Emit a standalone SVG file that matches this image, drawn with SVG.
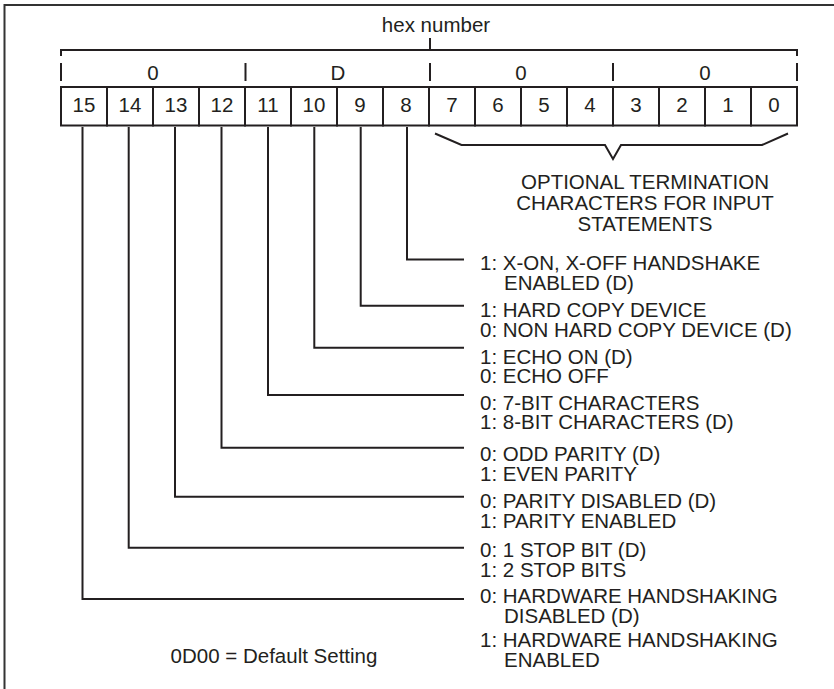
<svg xmlns="http://www.w3.org/2000/svg" width="834" height="689" viewBox="0 0 834 689">
<style>
text{font-family:"Liberation Sans",Arial,Helvetica,sans-serif;font-size:20.5px;fill:#231f20}
.c{text-anchor:middle}
.ln{fill:none;stroke:#231f20;stroke-width:2}
.cell{fill:#fff;stroke:#231f20;stroke-width:2}
</style>
<rect x="4.5" y="5" width="840" height="700" fill="#fff" stroke="#333" stroke-width="2"/>
<g id="hex-bracket">
<text class="c" x="436" y="32">hex number</text>
<path class="ln" d="M61,56V50H797V56M430,50V38"/>
<path class="ln" d="M61,63V81M245.5,63V81M430,63V81M613,63V81M797,63V81"/>
<text class="c" x="153" y="80">0</text>
<text class="c" x="338" y="80">D</text>
<text class="c" x="521" y="80">0</text>
<text class="c" x="705" y="80">0</text>
</g>
<g id="register">
<rect class="cell" x="61" y="87" width="46" height="38.5"/>
<rect class="cell" x="107" y="87" width="46" height="38.5"/>
<rect class="cell" x="153" y="87" width="46" height="38.5"/>
<rect class="cell" x="199" y="87" width="46" height="38.5"/>
<rect class="cell" x="245" y="87" width="46" height="38.5"/>
<rect class="cell" x="291" y="87" width="46" height="38.5"/>
<rect class="cell" x="337" y="87" width="46" height="38.5"/>
<rect class="cell" x="383" y="87" width="46" height="38.5"/>
<rect class="cell" x="429" y="87" width="46" height="38.5"/>
<rect class="cell" x="475" y="87" width="46" height="38.5"/>
<rect class="cell" x="521" y="87" width="46" height="38.5"/>
<rect class="cell" x="567" y="87" width="46" height="38.5"/>
<rect class="cell" x="613" y="87" width="46" height="38.5"/>
<rect class="cell" x="659" y="87" width="46" height="38.5"/>
<rect class="cell" x="705" y="87" width="46" height="38.5"/>
<rect class="cell" x="751" y="87" width="46" height="38.5"/>
<text class="c" x="84" y="112">15</text>
<text class="c" x="130" y="112">14</text>
<text class="c" x="176" y="112">13</text>
<text class="c" x="222" y="112">12</text>
<text class="c" x="268" y="112">11</text>
<text class="c" x="314" y="112">10</text>
<text class="c" x="360" y="112">9</text>
<text class="c" x="406" y="112">8</text>
<text class="c" x="452" y="112">7</text>
<text class="c" x="498" y="112">6</text>
<text class="c" x="544" y="112">5</text>
<text class="c" x="590" y="112">4</text>
<text class="c" x="636" y="112">3</text>
<text class="c" x="682" y="112">2</text>
<text class="c" x="728" y="112">1</text>
<text class="c" x="774" y="112">0</text>
</g>
<g id="connectors">
<path class="ln" d="M435,133.5L461.5,145H605L613,159L621,145H762L788,133.5"/>
<path class="ln" d="M407,127V259.5H464"/>
<path class="ln" d="M360.7,127V305.7H464"/>
<path class="ln" d="M314.3,127V347.7H464"/>
<path class="ln" d="M268,127V395H464"/>
<path class="ln" d="M221.5,127V447.7H464"/>
<path class="ln" d="M175,127V496.7H464"/>
<path class="ln" d="M128.7,127V547.7H464"/>
<path class="ln" d="M82.5,127V599H464"/>
</g>
<g id="termination-note">
<text class="c" x="645" y="189">OPTIONAL TERMINATION</text>
<text class="c" x="645" y="210">CHARACTERS FOR INPUT</text>
<text class="c" x="645" y="231">STATEMENTS</text>
</g>
<g id="bit8">
<text x="480" y="270">1: X-ON, X-OFF HANDSHAKE</text>
<text x="504" y="289.5">ENABLED (D)</text>
</g>
<g id="bit9">
<text x="480" y="316.7">1: HARD COPY DEVICE</text>
<text x="480" y="336.7">0: NON HARD COPY DEVICE (D)</text>
</g>
<g id="bit10">
<text x="480" y="364">1: ECHO ON (D)</text>
<text x="480" y="383.3">0: ECHO OFF</text>
</g>
<g id="bit11">
<text x="480" y="410">0: 7-BIT CHARACTERS</text>
<text x="480" y="429.3">1: 8-BIT CHARACTERS (D)</text>
</g>
<g id="bit12">
<text x="480" y="460.7">0: ODD PARITY (D)</text>
<text x="480" y="481">1: EVEN PARITY</text>
</g>
<g id="bit13">
<text x="480" y="508.3">0: PARITY DISABLED (D)</text>
<text x="480" y="528.3">1: PARITY ENABLED</text>
</g>
<g id="bit14">
<text x="480" y="556.7">0: 1 STOP BIT (D)</text>
<text x="480" y="576.7">1: 2 STOP BITS</text>
</g>
<g id="bit15">
<text x="480" y="603.3">0: HARDWARE HANDSHAKING</text>
<text x="504" y="623.3">DISABLED (D)</text>
<text x="480" y="646.7">1: HARDWARE HANDSHAKING</text>
<text x="504" y="666.7">ENABLED</text>
</g>
<g id="default-note">
<text class="c" x="274" y="663.3">0D00 = Default Setting</text>
</g>
</svg>
